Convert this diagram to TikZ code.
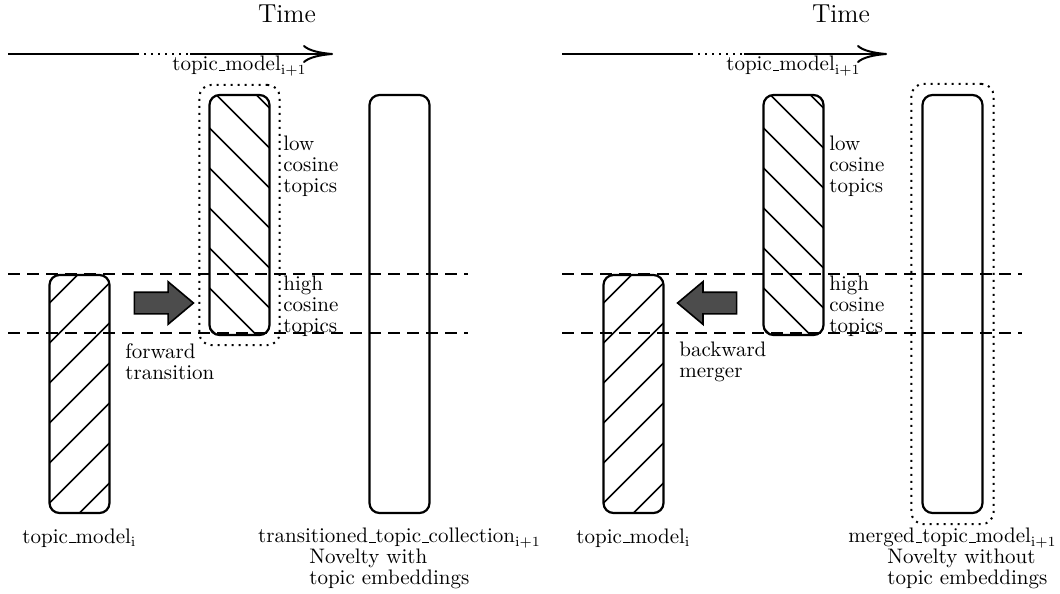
\documentclass[tikz,border=0pt]{standalone}
\usepackage{amsmath}
\usepackage{tikz}
\usetikzlibrary{arrows.meta, shapes.arrows, fit}

% short underscore sitting on the baseline
\newcommand\usc{\leavevmode\kern.06em\vbox{\hrule width.3em}}

\tikzset{
	topicbox/.style={draw, line width=1.1pt, rounded corners=5pt, minimum width=30pt, inner sep=0pt},
	hatchup/.style={path picture={
		\foreach \k in {0,...,7}
			\draw[line width=0.8pt] ([yshift=-15pt+\k*20pt]path picture bounding box.south west) -- ++(60pt,60pt);
	}},
	hatchdown/.style={path picture={
		\foreach \k in {-1,...,6}
			\draw[line width=0.8pt] ([yshift=3.5pt-\k*20pt]path picture bounding box.north west) -- ++(60pt,-60pt);
	}},
	groupbox/.style={draw, line width=1pt, dash pattern=on 1pt off 2.5pt, rounded corners=6pt, inner sep=4.5pt},
	dotline/.style={line width=1pt, dash pattern=on 1pt off 2.5pt},
	guide/.style={line width=0.9pt, dash pattern=on 6pt off 3.5pt},
	tag/.style={align=left, inner sep=0pt, font=\fontsize{10.5}{10.5}\selectfont},
	fatarrow/.style={single arrow, draw, fill=black!70, line width=0.8pt, inner xsep=0pt, inner ysep=5pt,
		minimum height=29.5pt, single arrow head extend=5.25pt, single arrow tip angle=80},
	timearrow/.style={line width=1pt, -{Computer Modern Rightarrow[length=15pt,width=9pt]}}
}

\begin{document}
\begin{tikzpicture}[x=0.5pt, y=-0.5pt, every node/.style={font=\fontsize{10.5}{12.5}\selectfont}]
	\useasboundingbox (0,0) rectangle (1060,594);

	% forward transition
	\begin{scope}[name prefix=fw-]
	\node[font=\fontsize{13}{15}\selectfont] (time) at (287,14) {Time};
	\coordinate (t0) at (8,54);
	\coordinate (t1) at (137,54);
	\coordinate (t2) at (190,54);
	\coordinate (t3) at (333,54);
	\draw[line width=1pt] (t0) -- (t1);
	\draw[dotline] (t1) -- (t2);
	\draw[timearrow] (t2) -- (t3);

	\draw[guide] (8,274) -- (468,274);
	\draw[guide] (8,333) -- (468,333);

	\node[topicbox, hatchup, minimum height=119pt] (model) at (79.5,394) {};
	\node[topicbox, hatchdown, minimum height=120pt] (next) at (239.5,215) {};
	\node[topicbox, minimum height=209pt] (coll) at (399.5,304) {};
	\node[groupbox, fit=(next)] (group) {};

	\node (nextlbl) at (239.5,66) {topic\usc model$_{\mathrm{i+1}}$};
	\node[tag, anchor=west] (low) at (283,166) {low\\cosine\\topics};
	\node[tag, anchor=west] (high) at (283,306) {high\\cosine\\topics};

	\node[fatarrow] (step) at (157.5,303) {};
	\node[tag, anchor=west] (steplbl) at (125,362) {forward\\transition};

	\node (modellbl) at (79.5,538) {topic\usc model$_{\mathrm{i}}$};
	\node (colllbl) at (399.5,538) {transitioned\usc topic\usc collection$_{\mathrm{i+1}}$};
	\node[tag, anchor=west] (novelty) at (309,569) {Novelty with\\topic embeddings};
	\end{scope}

	% backward merger
	\begin{scope}[shift={(554,0)}, name prefix=bw-]
	\node[font=\fontsize{13}{15}\selectfont] (time) at (287,14) {Time};
	\coordinate (t0) at (8,54);
	\coordinate (t1) at (137,54);
	\coordinate (t2) at (190,54);
	\coordinate (t3) at (333,54);
	\draw[line width=1pt] (t0) -- (t1);
	\draw[dotline] (t1) -- (t2);
	\draw[timearrow] (t2) -- (t3);

	\draw[guide] (8,274) -- (468,274);
	\draw[guide] (8,333) -- (468,333);

	\node[topicbox, hatchup, minimum height=119pt] (model) at (79.5,394) {};
	\node[topicbox, hatchdown, minimum height=120pt] (next) at (239.5,215) {};
	\node[topicbox, minimum height=209pt] (merged) at (398.5,304) {};
	\node[groupbox, inner sep=5pt, fit=(merged)] (group) {};

	\node (nextlbl) at (239.5,66) {topic\usc model$_{\mathrm{i+1}}$};
	\node[tag, anchor=west] (low) at (275,166) {low\\cosine\\topics};
	\node[tag, anchor=west] (high) at (275,306) {high\\cosine\\topics};

	\node[fatarrow, shape border rotate=180] (step) at (159.5,303) {};
	\node[tag, anchor=west] (steplbl) at (125,362) {backward\\merger};

	\node (modellbl) at (79.5,538) {topic\usc model$_{\mathrm{i}}$};
	\node (mergedlbl) at (398.5,538) {merged\usc topic\usc model$_{\mathrm{i+1}}$};
	\node[tag, anchor=west] (novelty) at (333,569) {Novelty without\\topic embeddings};
	\end{scope}
\end{tikzpicture}
\end{document}
